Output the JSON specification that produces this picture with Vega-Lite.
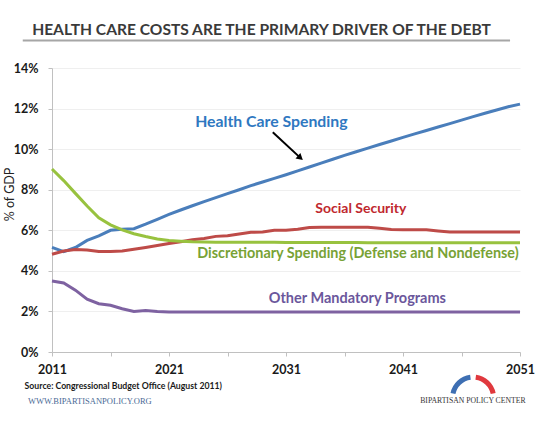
{
  "$schema": "https://vega.github.io/schema/vega-lite/v6.json",
  "width": 468,
  "height": 284,
  "autosize": "none",
  "padding": {"left": 52, "top": 68, "right": 22, "bottom": 69},
  "background": "white",
  "view": {"stroke": null},
  "data": {"values": [{}]},
  "datasets": {
    "spending": [
      {"year": 2011, "health": 5.16, "social": 4.82, "discretionary": 9.02, "other": 3.5},
      {"year": 2012, "health": 4.95, "social": 4.98, "discretionary": 8.45, "other": 3.4},
      {"year": 2013, "health": 5.15, "social": 5.05, "discretionary": 7.82, "other": 3.05},
      {"year": 2014, "health": 5.5, "social": 5.03, "discretionary": 7.2, "other": 2.6},
      {"year": 2015, "health": 5.72, "social": 4.96, "discretionary": 6.62, "other": 2.38},
      {"year": 2016, "health": 6.0, "social": 4.95, "discretionary": 6.27, "other": 2.3},
      {"year": 2017, "health": 6.05, "social": 4.98, "discretionary": 6.02, "other": 2.13},
      {"year": 2018, "health": 6.08, "social": 5.06, "discretionary": 5.83, "other": 2.0},
      {"year": 2019, "health": 6.3, "social": 5.15, "discretionary": 5.69, "other": 2.05},
      {"year": 2020, "health": 6.54, "social": 5.25, "discretionary": 5.57, "other": 2.0},
      {"year": 2021, "health": 6.78, "social": 5.35, "discretionary": 5.5, "other": 1.97},
      {"year": 2022, "health": 7.0, "social": 5.44, "discretionary": 5.46, "other": 1.97},
      {"year": 2023, "health": 7.21, "social": 5.53, "discretionary": 5.43, "other": 1.97},
      {"year": 2024, "health": 7.41, "social": 5.6, "discretionary": 5.42, "other": 1.97},
      {"year": 2025, "health": 7.61, "social": 5.7, "discretionary": 5.41, "other": 1.97},
      {"year": 2026, "health": 7.81, "social": 5.73, "discretionary": 5.41, "other": 1.97},
      {"year": 2027, "health": 8.0, "social": 5.82, "discretionary": 5.41, "other": 1.97},
      {"year": 2028, "health": 8.2, "social": 5.9, "discretionary": 5.41, "other": 1.97},
      {"year": 2029, "health": 8.38, "social": 5.92, "discretionary": 5.41, "other": 1.97},
      {"year": 2030, "health": 8.56, "social": 6.0, "discretionary": 5.41, "other": 1.97},
      {"year": 2031, "health": 8.74, "social": 6.0, "discretionary": 5.4, "other": 1.97},
      {"year": 2032, "health": 8.93, "social": 6.05, "discretionary": 5.4, "other": 1.97},
      {"year": 2033, "health": 9.12, "social": 6.14, "discretionary": 5.4, "other": 1.97},
      {"year": 2034, "health": 9.31, "social": 6.15, "discretionary": 5.4, "other": 1.97},
      {"year": 2035, "health": 9.5, "social": 6.15, "discretionary": 5.4, "other": 1.97},
      {"year": 2036, "health": 9.69, "social": 6.15, "discretionary": 5.4, "other": 1.97},
      {"year": 2037, "health": 9.87, "social": 6.15, "discretionary": 5.4, "other": 1.97},
      {"year": 2038, "health": 10.05, "social": 6.15, "discretionary": 5.39, "other": 1.97},
      {"year": 2039, "health": 10.23, "social": 6.1, "discretionary": 5.39, "other": 1.97},
      {"year": 2040, "health": 10.4, "social": 6.04, "discretionary": 5.39, "other": 1.97},
      {"year": 2041, "health": 10.58, "social": 6.03, "discretionary": 5.39, "other": 1.97},
      {"year": 2042, "health": 10.75, "social": 6.03, "discretionary": 5.39, "other": 1.97},
      {"year": 2043, "health": 10.92, "social": 6.03, "discretionary": 5.39, "other": 1.97},
      {"year": 2044, "health": 11.09, "social": 5.97, "discretionary": 5.39, "other": 1.97},
      {"year": 2045, "health": 11.26, "social": 5.92, "discretionary": 5.38, "other": 1.97},
      {"year": 2046, "health": 11.43, "social": 5.92, "discretionary": 5.38, "other": 1.97},
      {"year": 2047, "health": 11.6, "social": 5.92, "discretionary": 5.38, "other": 1.97},
      {"year": 2048, "health": 11.77, "social": 5.92, "discretionary": 5.38, "other": 1.97},
      {"year": 2049, "health": 11.93, "social": 5.92, "discretionary": 5.38, "other": 1.97},
      {"year": 2050, "health": 12.09, "social": 5.92, "discretionary": 5.38, "other": 1.97},
      {"year": 2051, "health": 12.22, "social": 5.92, "discretionary": 5.38, "other": 1.97}
    ]
  },
  "layer": [
    {
      "data": {"name": "spending"},
      "transform": [
        {"fold": ["health", "social", "discretionary", "other"], "as": ["series", "value"]}
      ],
      "mark": {"type": "line", "strokeWidth": 3, "clip": false},
      "encoding": {
        "x": {
          "field": "year",
          "type": "quantitative",
          "title": null,
          "scale": {"domain": [2011, 2051], "nice": false, "zero": false},
          "axis": {
            "values": [2011, 2016, 2021, 2026, 2031, 2036, 2041, 2046, 2051],
            "labelExpr": "(datum.value - 2011) % 10 == 0 ? datum.value : ''",
            "grid": false,
            "domainColor": "#c0c0c0",
            "tickColor": "#c0c0c0",
            "tickSize": 4,
            "labelFont": "Lato",
            "labelFontSize": 12.5,
            "labelFontWeight": "bold",
            "labelColor": "#1a1a1a",
            "labelPadding": 7,
            "labelFlush": false,
            "labelOverlap": false
          }
        },
        "y": {
          "field": "value",
          "type": "quantitative",
          "title": "% of GDP",
          "scale": {"domain": [0, 14], "nice": false},
          "axis": {
            "values": [0, 2, 4, 6, 8, 10, 12, 14],
            "labelExpr": "datum.value + '%'",
            "gridColor": "#efefef",
            "domainColor": "#c0c0c0",
            "tickColor": "#c0c0c0",
            "tickSize": 4,
            "labelFont": "Lato",
            "labelFontSize": 12.5,
            "labelFontWeight": "bold",
            "labelColor": "#1a1a1a",
            "labelPadding": 10,
            "titleFont": "Lato",
            "titleFontSize": 12.5,
            "titleFontWeight": "normal",
            "titleColor": "#222222",
            "titleX": -43,
            "titleY": 126,
            "titleAlign": "center",
            "titleBaseline": "middle"
          }
        },
        "color": {
          "field": "series",
          "type": "nominal",
          "legend": null,
          "scale": {
            "domain": ["health", "social", "discretionary", "other"],
            "range": ["#4a7ebb", "#be4b48", "#98c23f", "#7e62a1"]
          }
        }
      }
    },
    {
      "mark": {"type": "text", "text": "HEALTH CARE COSTS ARE THE PRIMARY DRIVER OF THE DEBT", "font": "Lato", "fontSize": 15.6, "fontWeight": "bold", "color": "#3a3a3a", "align": "center", "baseline": "alphabetic"},
      "encoding": {
        "x": {"datum": 2028.91, "type": "quantitative"},
        "y": {"datum": 15.64, "type": "quantitative"}
      }
    },
    {
      "mark": {"type": "rule", "color": "#a6a6a6", "strokeWidth": 2},
      "encoding": {
        "x": {"datum": 2008.5, "type": "quantitative"},
        "x2": {"datum": 2050.15},
        "y": {"datum": 15.36, "type": "quantitative"}
      }
    },
    {
      "mark": {"type": "text", "text": "Health Care Spending", "font": "Lato", "fontSize": 15.8, "fontWeight": "bold", "color": "#2f78c1", "align": "center", "baseline": "middle"},
      "encoding": {
        "x": {"datum": 2029.75, "type": "quantitative"},
        "y": {"datum": 11.33, "type": "quantitative"}
      }
    },
    {
      "mark": {"type": "text", "text": "Social Security", "font": "Lato", "fontSize": 14, "fontWeight": "bold", "color": "#c0282e", "align": "center", "baseline": "middle"},
      "encoding": {
        "x": {"datum": 2037.4, "type": "quantitative"},
        "y": {"datum": 7.05, "type": "quantitative"}
      }
    },
    {
      "mark": {"type": "text", "text": "Discretionary Spending (Defense and Nondefense)", "font": "Lato", "fontSize": 14.4, "fontWeight": "bold", "color": "#78a235", "align": "center", "baseline": "middle"},
      "encoding": {
        "x": {"datum": 2037.15, "type": "quantitative"},
        "y": {"datum": 4.81, "type": "quantitative"}
      }
    },
    {
      "mark": {"type": "text", "text": "Other Mandatory Programs", "font": "Lato", "fontSize": 14.5, "fontWeight": "bold", "color": "#6b579c", "align": "center", "baseline": "middle"},
      "encoding": {
        "x": {"datum": 2037.1, "type": "quantitative"},
        "y": {"datum": 2.6, "type": "quantitative"}
      }
    },
    {
      "mark": {"type": "rule", "color": "black", "strokeWidth": 2},
      "encoding": {
        "x": {"datum": 2029.87, "type": "quantitative"},
        "x2": {"datum": 2032.23},
        "y": {"datum": 10.83, "type": "quantitative"},
        "y2": {"datum": 9.57}
      }
    },
    {
      "mark": {"type": "point", "shape": "triangle-up", "filled": true, "color": "black", "opacity": 1, "size": 55, "angle": 131},
      "encoding": {
        "x": {"datum": 2032.23, "type": "quantitative"},
        "y": {"datum": 9.57, "type": "quantitative"}
      }
    },
    {
      "mark": {"type": "text", "text": "Source: Congressional Budget Office (August 2011)", "font": "Lato", "fontSize": 8.7, "fontWeight": "bold", "color": "#1a1a1a", "align": "left", "baseline": "middle"},
      "encoding": {
        "x": {"datum": 2008.66, "type": "quantitative"},
        "y": {"datum": -1.66, "type": "quantitative"}
      }
    },
    {
      "mark": {"type": "text", "text": "WWW.BIPARTISANPOLICY.ORG", "font": "Liberation Serif", "fontSize": 8.5, "color": "#4a6a95", "align": "left", "baseline": "middle"},
      "encoding": {
        "x": {"datum": 2008.94, "type": "quantitative"},
        "y": {"datum": -2.43, "type": "quantitative"}
      }
    },
    {
      "mark": {"type": "text", "text": "BIPARTISAN POLICY CENTER", "font": "Liberation Serif", "fontSize": 7.7, "color": "#333333", "align": "center", "baseline": "middle"},
      "encoding": {
        "x": {"datum": 2046.97, "type": "quantitative"},
        "y": {"datum": -2.43, "type": "quantitative"}
      }
    },
    {
      "mark": {"type": "arc", "theta": -1.37, "theta2": -0.13, "innerRadius": 18, "outerRadius": 23, "color": "#3e6fb3"},
      "encoding": {
        "x": {"datum": 2046.99, "type": "quantitative"},
        "y": {"datum": -2.25, "type": "quantitative"}
      }
    },
    {
      "mark": {"type": "arc", "theta": 0.13, "theta2": 1.37, "innerRadius": 18, "outerRadius": 23, "color": "#e0393e"},
      "encoding": {
        "x": {"datum": 2046.99, "type": "quantitative"},
        "y": {"datum": -2.25, "type": "quantitative"}
      }
    }
  ]
}
